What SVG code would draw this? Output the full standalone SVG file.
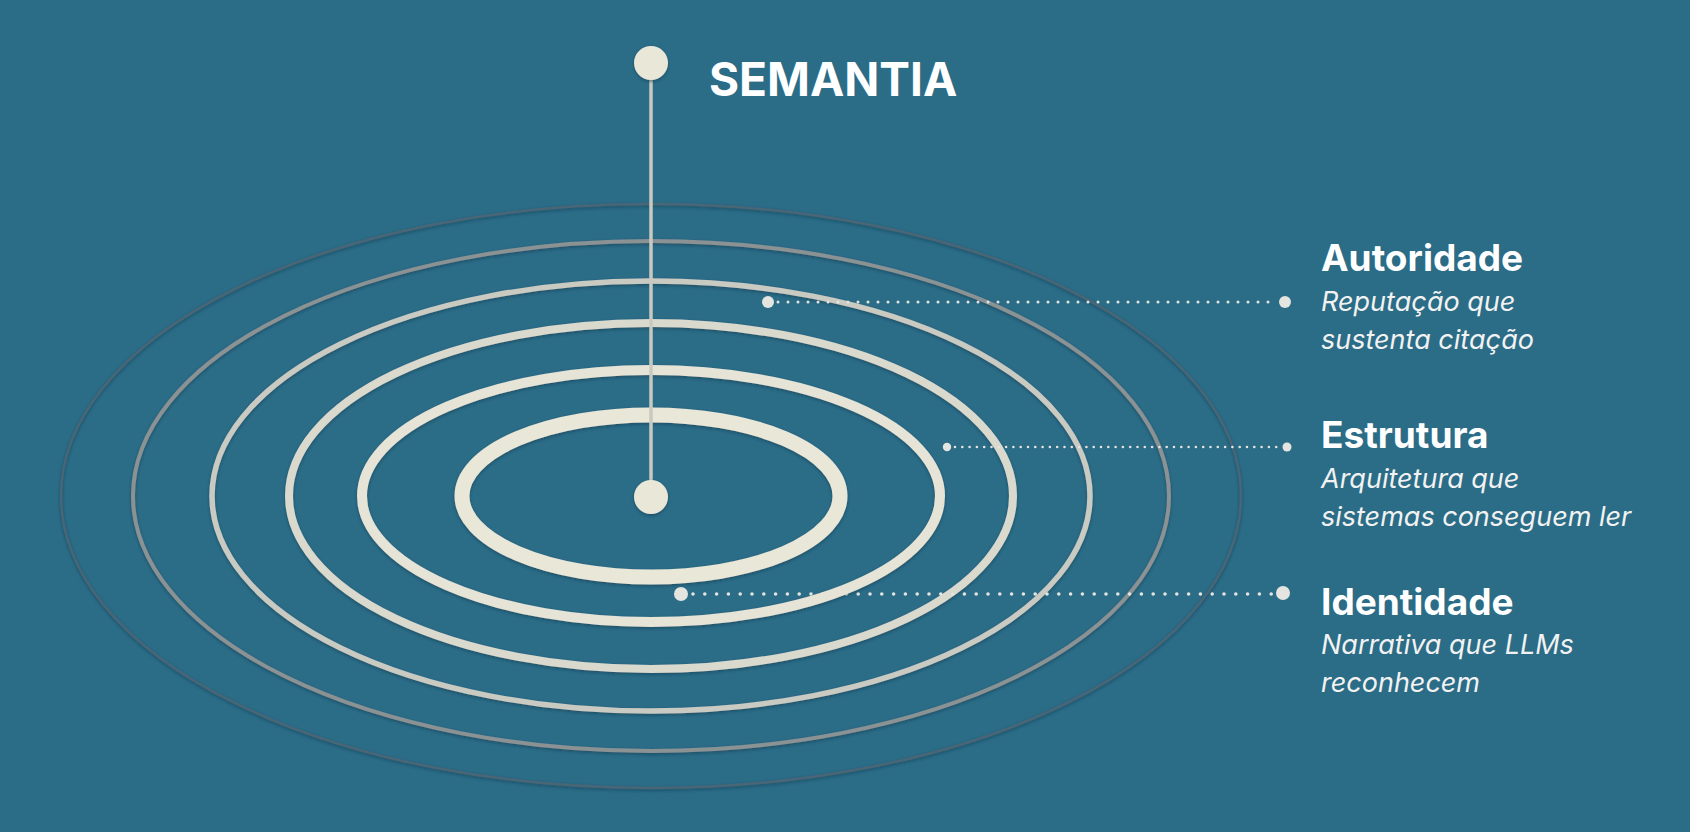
<svg xmlns="http://www.w3.org/2000/svg" width="1690" height="832" viewBox="0 0 1690 832">
  <defs>
    <filter id="sh" x="-10%" y="-10%" width="120%" height="120%">
      <feDropShadow dx="0" dy="1.5" stdDeviation="1.5" flood-color="#173848" flood-opacity="0.55"/>
    </filter>
    <style>
      .ring { fill: none; filter: url(#sh); }
      .knob { fill: #E9E7D8; filter: url(#sh); }
      .title { font-family: Inter, "Liberation Sans", sans-serif; font-weight: 700; fill: #FFFFFF; }
      .lbl { font-family: Inter, "Liberation Sans", sans-serif; font-weight: 700; font-size: 37px; fill: #FFFFFF; }
      .sub { font-family: Inter, "Liberation Sans", sans-serif; font-style: italic; font-size: 27px; fill: #F2F2F2; }
      .dot { fill: #E4E4E0; }
      .dash { fill: none; stroke: #E4E4E0; stroke-linecap: round; }
    </style>
  </defs>
  <rect width="1690" height="832" fill="#2B6C87"/>

  <g id="outer-rings">
    <ellipse class="ring" cx="651" cy="496" rx="590" ry="292" stroke="#486676" stroke-width="2.5"/>
    <ellipse class="ring" cx="651" cy="496" rx="518" ry="255" stroke="#8A9294" stroke-width="4"/>
    <ellipse class="ring" cx="651" cy="496" rx="439" ry="215" stroke="#C9CAC2" stroke-width="5.5"/>
    <ellipse class="ring" cx="651" cy="496" rx="362" ry="173" stroke="#DAD9CE" stroke-width="8"/>
  </g>

  <g id="connectors">
    <g id="conn-autoridade">
      <line class="dash" x1="778" y1="302" x2="1276" y2="302" stroke-width="3" stroke-dasharray="0 10"/>
      <circle class="dot" cx="768" cy="302" r="6"/>
      <circle class="dot" cx="1285" cy="302" r="6"/>
    </g>
    <g id="conn-estrutura">
      <line class="dash" x1="955" y1="447" x2="1280" y2="447" stroke-width="2.6" stroke-dasharray="0 7.3"/>
      <circle class="dot" cx="947" cy="447" r="4.2"/>
      <circle class="dot" cx="1287" cy="447" r="4.5"/>
    </g>
    <g id="conn-identidade">
      <line class="dash" x1="693" y1="594" x2="1272" y2="594" stroke-width="3.6" stroke-dasharray="0 11.8"/>
      <circle class="dot" cx="681" cy="594" r="7"/>
      <circle class="dot" cx="1283" cy="593" r="7"/>
    </g>
  </g>

  <g id="inner-rings">
    <ellipse class="ring" cx="651" cy="496" rx="289" ry="126" stroke="#E6E4D6" stroke-width="10"/>
    <ellipse class="ring" cx="651" cy="496" rx="189" ry="81" stroke="#E9E7D8" stroke-width="15"/>
  </g>

  <g id="semantia">
    <line x1="651" y1="63" x2="651" y2="497" stroke="#C9C9C1" stroke-width="3.5"/>
    <circle class="knob" cx="651" cy="63" r="17"/>
    <circle class="knob" cx="651" cy="497" r="17"/>
    <text class="title" x="709" y="96" font-size="46">SEMANTIA</text>
  </g>

  <g id="autoridade">
    <text class="lbl" x="1321" y="271">Autoridade</text>
    <text class="sub" x="1321" y="311">Reputação que</text>
    <text class="sub" x="1321" y="349">sustenta citação</text>
  </g>

  <g id="estrutura">
    <text class="lbl" x="1321" y="448">Estrutura</text>
    <text class="sub" x="1321" y="488">Arquitetura que</text>
    <text class="sub" x="1321" y="526">sistemas conseguem ler</text>
  </g>

  <g id="identidade">
    <text class="lbl" x="1321" y="615">Identidade</text>
    <text class="sub" x="1321" y="654">Narrativa que LLMs</text>
    <text class="sub" x="1321" y="692">reconhecem</text>
  </g>
</svg>
